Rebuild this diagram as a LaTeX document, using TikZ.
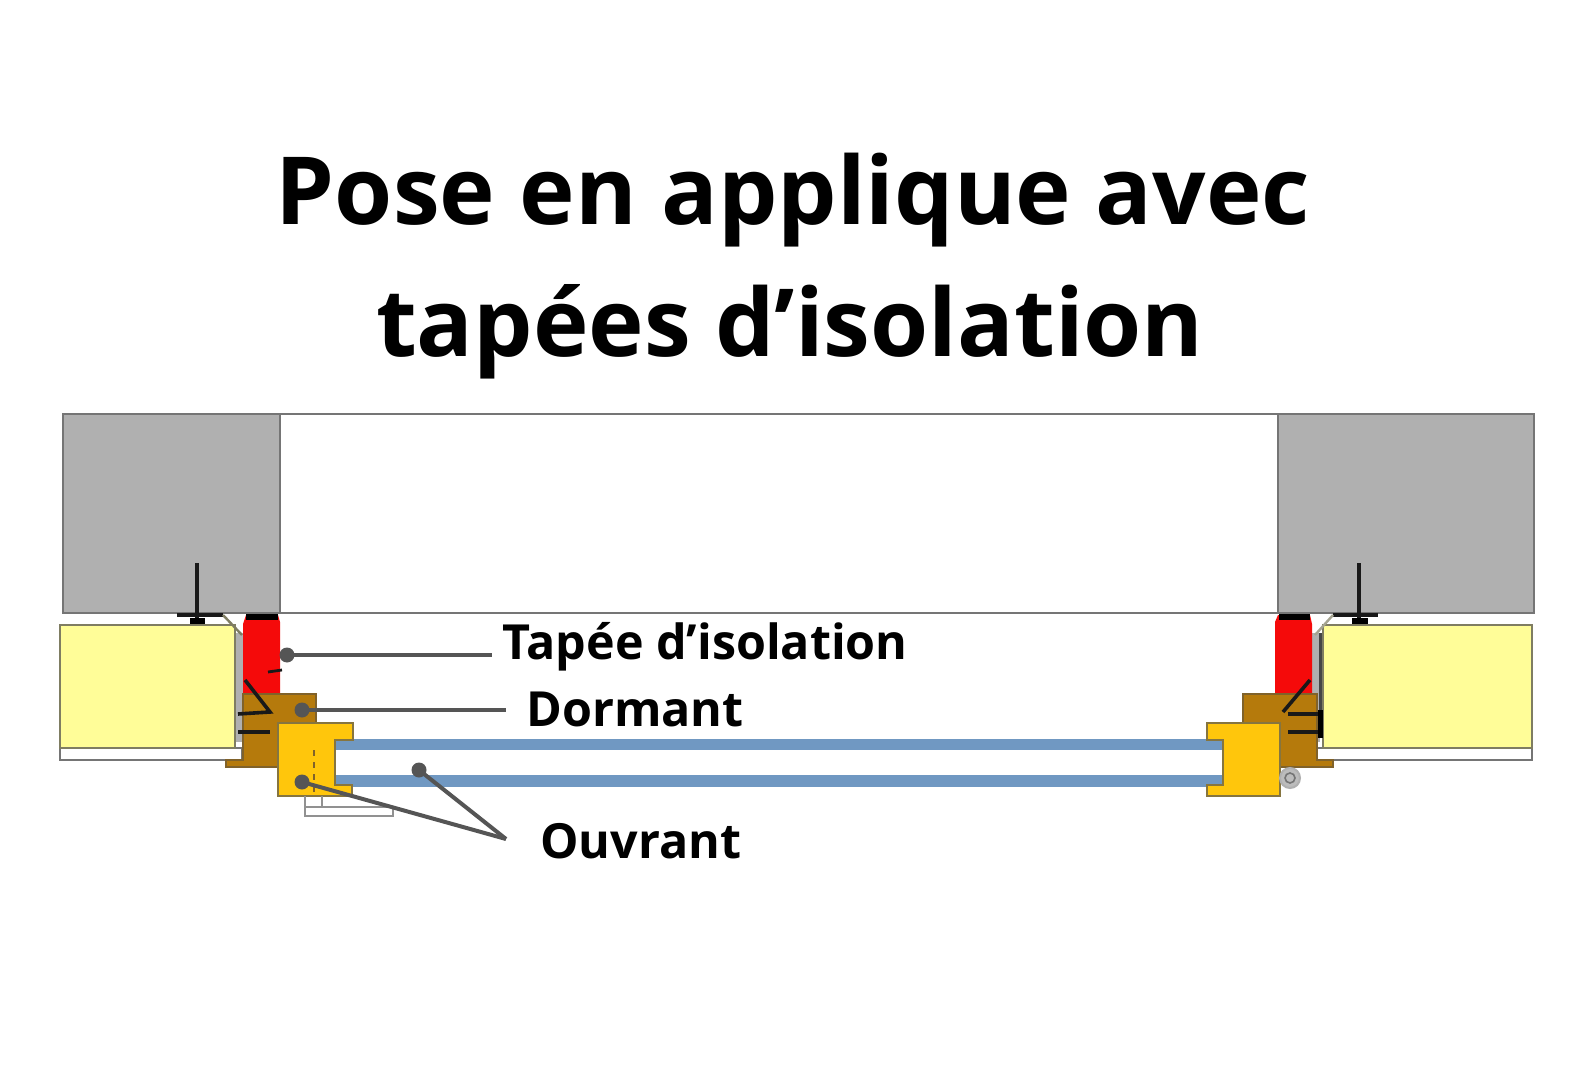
\documentclass[tikz,border=0pt]{standalone}
\usepackage{fontspec}
\setmainfont{Open Sans}
\definecolor{wallgray}{HTML}{B0B0B0}
\definecolor{wallline}{HTML}{757575}
\definecolor{foamyellow}{HTML}{FFFD98}
\definecolor{foamline}{HTML}{7F7D62}
\definecolor{tapeered}{HTML}{F50A0A}
\definecolor{dormantbrown}{HTML}{B57A0C}
\definecolor{dormantline}{HTML}{80622A}
\definecolor{ouvrantyellow}{HTML}{FFC60C}
\definecolor{ouvrantline}{HTML}{86753F}
\definecolor{glassblue}{HTML}{7098C2}
\definecolor{leadgray}{HTML}{555555}
\begin{document}
\begin{tikzpicture}[x=0.5pt,y=-0.5pt]
\tikzstyle{every node}=[font=\bfseries,text=black]
\tikzstyle{titletext}=[font=\fontsize{47}{47}\selectfont\bfseries,anchor=base]
\tikzstyle{labeltext}=[font=\fontsize{24.2}{24.2}\selectfont\bfseries,anchor=base west,inner sep=0pt]
\tikzstyle{wall}=[fill=wallgray,draw=wallline,line width=1.3pt]
\tikzstyle{foam}=[fill=foamyellow,draw=foamline,line width=1.3pt]
\tikzstyle{strip}=[fill=white,draw=wallline,line width=1.3pt]
\tikzstyle{tapee}=[fill=tapeered]
\tikzstyle{dormant}=[fill=dormantbrown,draw=dormantline,line width=1pt]
\tikzstyle{ouvrant}=[fill=ouvrantyellow,draw=ouvrantline,line width=1.2pt]
\tikzstyle{glass}=[fill=glassblue]
\tikzstyle{fixing}=[line width=2.4pt,black!90]
\tikzstyle{leader}=[line width=2pt,leadgray]
\tikzstyle{leaddot}=[circle,fill=leadgray,inner sep=0pt,outer sep=0pt,minimum size=7.5pt]
\useasboundingbox (0,0) rectangle (1579,1080);
\fill[white] (0,0) rectangle (1579,1080);

\node[titletext] (titleone) at (793,225) {Pose en applique avec};
\node[titletext] (titletwo) at (790,357) {tapées d’isolation};

\draw[wallline,line width=1.3pt] (280,414)--(1278,414);
\draw[wallline,line width=1.3pt] (280,613)--(1278,613);
\draw[wall] (63,414) rectangle (280,613);
\draw[wall] (1278,414) rectangle (1534,613);

\draw[strip] (60,748) rectangle (242,760);
\draw[strip] (1316,748) rectangle (1532,760);
\fill[wallgray] (235,633) rectangle (243,742);
\fill[wallgray] (1312,633) rectangle (1320,742);
\draw[foam] (60,625) rectangle (235,748);
\draw[foam] (1323,625) rectangle (1532,748);

\fill[tapee] (243,624)--(246,615)--(278,615)--(280,622)--(280,696)--(243,696)--cycle;
\fill[tapee] (1275,622)--(1278,615)--(1310,615)--(1312,624)--(1312,696)--(1275,696)--cycle;
\fill[black] (246,614) rectangle (278,620);
\fill[black] (1279,614) rectangle (1310,620);

\draw[dormant] (243,694)--(316,694)--(316,723)--(278,723)--(278,767)--(226,767)--(226,760)--(243,760)--cycle;
\draw[dormant] (1243,694)--(1317,694)--(1317,760)--(1333,760)--(1333,767)--(1280,767)--(1280,723)--(1243,723)--cycle;

\fill[glass] (335,739) rectangle (1223,750);
\fill[glass] (335,775) rectangle (1223,787);
\draw[ouvrant] (278,723)--(353,723)--(353,740)--(335,740)--(335,785)--(352,785)--(352,796)--(278,796)--cycle;
\draw[ouvrant] (1207,723)--(1280,723)--(1280,796)--(1207,796)--(1207,785)--(1223,785)--(1223,740)--(1207,740)--cycle;
\draw[dormantline,dashed,line width=1.2pt] (314,750)--(314,794);

\draw[fixing] (197,563)--(197,620);
\draw[fixing,line width=2pt] (177,615)--(223,615);
\fill[black] (190,618) rectangle (205,624);
\draw[foamline,line width=1.2pt] (223,615)--(242,635);
\draw[fixing] (1359,563)--(1359,620);
\draw[fixing,line width=2pt] (1333,615)--(1378,615);
\fill[black] (1352,618) rectangle (1368,624);
\draw[foamline!70,line width=1.2pt] (1333,615)--(1315,635);

\draw[fixing,line width=1.8pt] (245,680)--(270,712)--(238,714);
\draw[fixing,line width=1.8pt] (238,732)--(270,732);
\draw[fixing,line width=1.4pt] (268,672)--(282,670);
\draw[fixing,line width=1.8pt] (1310,680)--(1283,712);
\draw[fixing,line width=1.8pt] (1288,714)--(1320,714);
\draw[fixing,line width=1.8pt] (1288,732)--(1320,732);
\draw[wallline!60!black,line width=1.2pt] (1320.5,633)--(1320.5,710);
\draw[black,line width=2.2pt] (1320.5,710)--(1320.5,738);

\draw[wallline!80,line width=1.3pt] (305,796)--(305,816)--(393,816)--(393,807)--(305,807);
\draw[wallline!80,line width=1.3pt] (322,796)--(322,807);
\draw[wallgray,fill=wallgray!85,line width=1pt] (1290,778) circle (10);
\draw[wallline,line width=0.8pt] (1290,778) circle (5);

\node[labeltext] (tapeelabel) at (502,659) {Tapée d’isolation};
\node[labeltext] (dormantlabel) at (526,726) {Dormant};
\node[labeltext] (ouvrantlabel) at (540,858) {Ouvrant};

\node[leaddot] (tapeedot) at (287,655) {};
\node[leaddot] (dormantdot) at (302,710) {};
\node[leaddot] (ouvrantdot) at (302,782) {};
\node[leaddot] (glassdot) at (419,770) {};
\coordinate (tapeeend) at (492,655);
\coordinate (dormantend) at (506,710);
\coordinate (ouvrantend) at (506,839);
\draw[leader] (tapeedot.center)--(tapeeend);
\draw[leader] (dormantdot.center)--(dormantend);
\draw[leader] (ouvrantdot.center)--(ouvrantend);
\draw[leader] (glassdot.center)--(ouvrantend);
\end{tikzpicture}
\end{document}
